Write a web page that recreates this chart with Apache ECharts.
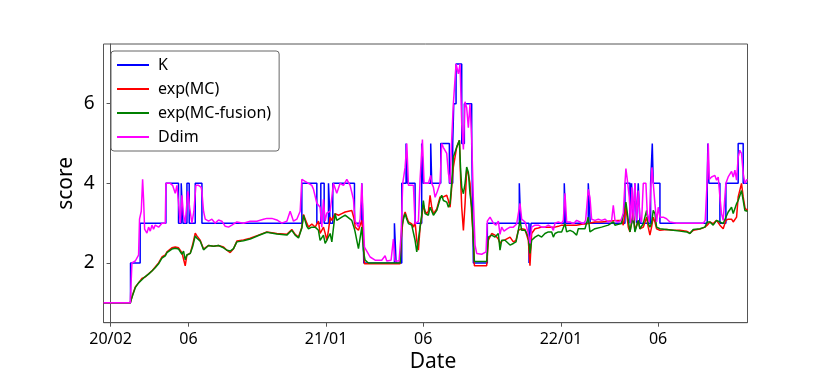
<!DOCTYPE html>
<html>
<head>
<meta charset="utf-8">
<script src="https://cdn.jsdelivr.net/npm/echarts@6/dist/echarts.min.js"></script>
<style>html,body{margin:0;padding:0;background:#fff}#c{width:830px;height:369px}</style>
</head>
<body>
<div id="c"></div>
<script>
// x values are days since 2020-02-01
const tickDays = [0, 121, 335, 486, 700, 851];
const tickLabels = ['20/02', '06', '21/01', '06', '22/01', '06'];
const yTicks = [2, 4, 6];

const kX = [-11, 31, 46, 86, 105.6, 109.8, 112.5, 118.7, 122.2, 131.6, 142, 297.3, 320.6, 326.8, 332, 338.7, 341.3, 345.4, 379.1, 390.5, 393.6, 441.2, 443.8, 452.6, 459.3, 461.4, 473.3, 483.6, 486.2, 497.6, 499.2, 513.2, 526.6, 531.8, 533.4, 537, 545.8, 549.9, 561.3, 563.9, 585.6, 635.3, 637.4, 650.4, 653.5, 705.2, 707.3, 742.5, 745.6, 799.5, 807.3, 809.8, 812.4, 815, 817.6, 820.2, 822.8, 839.4, 842, 843.5, 853.9, 927.4, 928.4, 930, 947.1, 956.4, 975.5, 983.3, 990];
const kY = [1, 2, 3, 4, 3, 4, 3, 4, 3, 4, 3, 4, 3, 4, 3, 4, 3, 4, 3, 4, 2, 3, 2, 4, 5, 4, 3, 5, 4, 5, 4, 5, 4, 5, 6, 7, 5, 6, 5, 2, 3, 4, 3, 2, 3, 4, 3, 4, 3, 4, 3, 4, 3, 4, 3, 4, 3, 4, 5, 4, 3, 4, 5, 4, 3, 4, 5, 4, 4];

const ddimX = [
  -11, 30.6, 33.2, 38.4, 43.5, 45, 47.7, 49.8, 51.3, 52.9, 56.5, 59.1, 61.7, 64.3, 66.8, 69.4, 74.6, 79.8, 82.4, 85, 86, 92.7, 96.4, 100.5, 103.1, 105.7, 108.3, 110.9, 113.4, 116, 120.2, 122.8, 126.4, 129.5, 132.6, 136.7, 140.9,
  141.9, 144.5, 147.1, 152.3, 157.5, 162.6, 167.8, 173, 178.2, 183.3, 188.5, 196.3, 206.6, 217, 227.4, 237.7, 242.9, 250.7, 258.4, 266.2, 274, 279.1, 284.3, 289.5, 294.7, 297.3,
  302.4, 307.6, 312.8, 315.4, 320.6, 325.7, 328.3, 330.9, 333.5, 336.1, 341.3, 343.9, 346.4, 351.6, 356.8, 362, 367.2, 372.3, 377.5, 380.1, 385.3, 387.9, 390.5, 392.5, 394.6, 398.2, 403.4, 411.2, 421.5, 426.7, 429.3, 436, 439.6, 442.2, 448.4, 451.5, 454.1, 457.8, 460.4, 463,
  465.5, 470.7, 473.3, 478.5, 481.1, 484.7, 487.3, 494, 497.6, 499.2, 501.8, 504.4, 508, 512.1, 514.7, 517.3, 522.5, 525.1, 527.7, 530.2, 532.8, 537, 540.6, 543.2, 545.8, 548.4, 550.9, 553.5, 556.1, 558.7, 561.3, 563.9, 566.5, 569.1, 576.9, 583.6, 585.6, 589.8, 595, 599.1, 602.7, 605.3, 607.9, 611.5, 615.7, 620.9, 626,
  631.2, 633.8, 636.4, 639, 644.2, 646.7, 649.3, 651.9, 654.5, 659.7, 664.9, 670, 675.2, 680.4, 685.6, 688.2, 690.8, 695.9, 701.1, 703.7, 706.3, 708.9, 714.1, 719.2, 724.4, 729.6, 734.8, 738.4, 742.5, 745.1, 747.7, 752.9, 758.1, 763.2, 768.4, 773.6, 778.8, 781.4, 784, 789.1, 793.3,
  796.9, 799.5, 801, 803.1, 806.2, 808.3, 810.4, 812.4, 815, 817.6, 820.2, 822.8, 825.4, 828, 832.1, 834.2, 837.3, 839.4, 841.4, 843.5, 846.1, 848.7, 851.3, 853.9, 859, 864.2, 869.4, 879.7, 895.3, 910.8, 921.2, 924.3, 927.4, 929, 930.5, 934.1, 936.7, 939.3, 941.9, 944.5, 947.1, 949.6, 952.2, 956.4, 960, 962.6, 965.2, 967.8, 970.4, 973, 975.5, 978.1, 980.7, 983.3, 985.9, 988.5, 990
];
const ddimY = [
  1, 1, 2.0, 2.05, 2.2, 3.1, 3.3, 4.1, 3.6, 2.85, 2.75, 2.9, 2.8, 2.95, 2.85, 2.95, 2.9, 3.0, 2.95, 3.0, 4.0, 4.0, 3.95, 3.75, 3.95, 3.5, 3.0, 3.7, 3.2, 3.0, 3.8, 3.4, 3.0, 3.3, 3.95, 3.95, 3.9,
  3.8, 3.3, 3.1, 3.05, 3.1, 3.0, 3.08, 3.05, 2.92, 2.9, 2.95, 3.03, 3.0, 3.05, 3.05, 3.1, 3.12, 3.12, 3.08, 3.0, 3.05, 3.3, 3.05, 3.1, 3.3, 4.1,
  4.05, 4.0, 3.95, 3.85, 3.5, 3.4, 2.9, 3.6, 3.05, 3.25, 3.3, 3.65, 4.0, 3.75, 4.0, 3.95, 4.1, 3.95, 3.6, 3.05, 2.9, 3.1, 4.0, 3.2, 2.4, 2.3, 2.15, 2.07, 2.07, 2.18, 2.05, 2.07, 2.6, 2.05, 2.05, 2.7, 4.0, 4.4, 5.0, 3.95,
  3.9, 3.95, 2.98, 3.05, 4.1, 5.1, 4.0, 4.0, 4.2, 4.0, 3.9, 3.65, 3.8, 4.0, 5.0, 4.9, 4.75, 4.25, 4.0, 5.1, 6.0, 7.0, 6.75, 7.0, 5.5, 4.85, 6.05, 5.9, 5.4, 6.0, 5.1, 3.6, 2.45, 2.24, 2.22, 2.28, 3.05, 3.15, 3.0, 2.95, 3.05, 2.72, 2.9, 2.8, 2.85, 2.9, 2.9,
  2.98, 3.0, 3.5, 3.1, 3.03, 2.9, 2.74, 2.49, 2.9, 2.95, 2.95, 2.9, 2.9, 2.95, 2.9, 2.82, 3.0, 3.03, 3.0, 3.07, 3.75, 3.03, 3.03, 2.98, 3.07, 3.03, 2.98, 3.07, 3.85, 3.65, 3.1, 3.07, 3.1, 3.07, 3.1, 3.03, 3.07, 3.45, 3.07, 3.03, 3.07,
  3.24, 4.0, 4.37, 4.1, 3.66, 3.0, 3.9, 3.07, 4.0, 3.07, 3.82, 3.15, 3.03, 4.0, 4.0, 3.24, 3.03, 3.82, 4.4, 4.0, 3.49, 3.03, 3.4, 3.15, 3.15, 3.11, 3.03, 3.0, 3.0, 3.0, 3.0, 3.07, 4.1, 5.0, 4.1, 4.16, 4.12, 4.2, 4.08, 4.16, 3.66, 3.24, 3.07, 4.0, 4.16, 4.2, 4.3, 4.16, 4.33, 4.08, 4.66, 4.83, 4.75, 4.25, 4.0, 4.08, 4.1
];

const mcX = [
  -11, 30.6, 34.2, 38.4, 43.5, 48.7, 53.9, 59.1, 64.3, 69.4, 74.6, 79.8, 85, 87.6, 95.3, 100.5, 105.7, 110.9, 113.4, 116, 118.6, 123.8, 127.4, 131.6, 134.2, 139.3, 144.5,
  147.1, 152.3, 160, 167.8, 175.6, 180.8, 185.9, 191.1, 196.3, 206.6, 217, 229.9, 242.9, 258.4, 274, 281.7, 286.9, 292.1, 297.3, 299.9,
  305, 307.6, 312.8, 318, 323.1, 325.7, 330.9, 333.5, 336.1, 338.7, 341.3, 343.9, 349, 351.6, 354.2, 359.4, 364.6, 374.9, 379.1, 380.1, 382.7, 385.3, 390.5, 393, 394.6, 395.6, 400.8, 450, 452.6, 455.2, 457.8, 460.4, 463, 468.1,
  470.7, 473.3, 475.9, 478.5, 481.1, 483.6, 486.2, 488.8, 491.4, 494, 496.6, 499.2, 501.8, 507, 512.1, 514.7, 517.3, 522.5, 525.1, 527.7, 530.2, 532.8, 538, 542.2, 544.2, 545.8, 548.4, 551, 553.5, 556.1, 558.7, 561.3, 563.9, 565.5, 584.6, 587.2, 592.4, 597.6, 600.2, 602.7, 605.3, 607.9, 610.5, 613.1, 615.7, 620.9, 626, 630.2,
  633.8, 636.4, 639, 644.2, 646.7, 649.3, 651.9, 654.5, 659.7, 664.9, 670, 675.2, 680.4, 685.6, 688.2, 690.8, 695.9, 701.1, 706.3, 708.9, 714.1, 719.2, 724.4, 727, 732.2, 737.4, 742.5, 745.1, 752.9, 763.2, 773.6, 781.4, 784, 789.1, 794.3,
  796.9, 801, 804.7, 807.3, 812.4, 815, 820.2, 822.8, 828, 833.2, 835.7, 838.3, 840.9, 843.5, 846.1, 848.7, 853.9, 864.2, 874.6, 884.9, 895.3, 900.5, 903.1, 905.6, 916, 923.8, 927.4, 931.5, 936.7, 941.9, 947.1, 952.2, 956.4, 960, 962.6, 965.2, 967.8, 973, 975.5, 980.7, 983.3, 985.9, 988.5, 990
];
const mcY = [
  1, 1, 1.2, 1.4, 1.5, 1.61, 1.65, 1.73, 1.8, 1.9, 2.0, 2.15, 2.2, 2.28, 2.38, 2.4, 2.38, 2.26, 2.28, 1.93, 2.2, 2.24, 2.45, 2.75, 2.68, 2.57, 2.35,
  2.36, 2.44, 2.42, 2.44, 2.4, 2.32, 2.26, 2.36, 2.55, 2.58, 2.62, 2.7, 2.78, 2.74, 2.72, 2.84, 2.72, 2.65, 2.9, 3.22,
  3.0, 2.9, 2.98, 2.9, 3.05, 2.74, 2.9, 2.75, 2.57, 2.82, 3.15, 3.07, 3.24, 3.2, 3.2, 3.24, 3.28, 3.32, 3.07, 2.9, 2.85, 2.82, 3.07, 2.57, 1.98, 1.98, 1.98, 1.98, 2.78, 3.15, 3.28, 3.15, 3.03, 2.98,
  2.9, 3.03, 2.57, 2.32, 2.9, 3.15, 3.45, 3.3, 3.24, 3.3, 3.7, 3.4, 3.24, 3.36, 3.66, 3.66, 3.66, 3.7, 3.57, 3.4, 3.9, 4.41, 4.91, 5.08, 4.08, 3.4, 2.82, 3.49, 4.33, 4.24, 4.0, 3.24, 2.57, 1.93, 1.93, 2.57, 2.74, 2.7, 2.65, 2.6, 2.49, 2.55, 2.57, 2.58, 2.61, 2.65, 2.53, 2.57,
  2.82, 2.86, 2.86, 2.84, 2.82, 2.57, 1.93, 2.74, 2.86, 2.88, 2.9, 2.9, 2.9, 2.9, 2.9, 2.9, 2.92, 2.95, 2.95, 2.95, 2.95, 2.95, 2.95, 2.96, 2.97, 2.98, 2.99, 3.0, 3.03, 3.03, 3.05, 3.06, 3.07, 3.07, 3.07,
  2.95, 3.4, 2.9, 2.78, 3.28, 2.82, 3.07, 2.86, 2.9, 3.15, 2.9, 2.7, 2.9, 3.15, 3.03, 2.86, 2.82, 2.84, 2.82, 2.82, 2.8, 2.75, 2.78, 2.82, 2.85, 2.9, 2.95, 3.03, 2.99, 3.07, 2.95, 2.86, 3.07, 3.1, 3.15, 3.1, 3.03, 3.15, 3.66, 4.0, 3.66, 3.4, 3.32, 3.35
];
const fusionY = [
  1, 1, 1.18, 1.38, 1.5, 1.58, 1.66, 1.72, 1.8, 1.88, 1.98, 2.12, 2.18, 2.26, 2.35, 2.37, 2.35, 2.22, 2.3, 2.08, 2.2, 2.24, 2.4, 2.68, 2.62, 2.55, 2.33,
  2.36, 2.44, 2.42, 2.44, 2.38, 2.32, 2.3, 2.36, 2.53, 2.56, 2.6, 2.69, 2.77, 2.73, 2.7, 2.82, 2.7, 2.63, 2.88, 3.2,
  2.92, 2.86, 2.9, 2.9, 2.82, 2.57, 2.7, 2.49, 2.57, 2.6, 2.74, 2.53, 3.24, 3.07, 3.1, 3.15, 3.2, 3.07, 2.85, 2.78, 2.57, 2.36, 2.9, 2.32, 2.15, 2.07, 2.0, 2.0, 2.9, 3.1, 3.24, 3.1, 2.99, 2.95,
  2.9, 2.57, 2.28, 2.32, 2.9, 3.2, 3.57, 3.24, 3.22, 3.2, 3.4, 3.45, 3.2, 3.32, 3.6, 3.7, 3.57, 3.53, 3.4, 3.5, 4.0, 4.66, 4.91, 5.08, 4.3, 3.9, 3.74, 4.0, 4.41, 4.28, 3.74, 3.4, 2.57, 2.04, 2.04, 2.65, 2.7, 2.65, 2.7, 2.74, 2.32, 2.57, 2.55, 2.57, 2.61, 2.45, 2.49, 2.53,
  2.82, 3.07, 2.82, 2.82, 2.75, 2.65, 2.24, 2.57, 2.65, 2.7, 2.65, 2.74, 2.78, 2.78, 2.65, 2.74, 2.78, 2.78, 2.99, 2.78, 2.82, 2.78, 2.7, 2.86, 2.86, 2.86, 3.15, 2.78, 2.86, 2.9, 2.95, 3.03, 2.95, 2.97, 2.99,
  2.95, 3.53, 3.07, 2.78, 3.2, 2.78, 3.07, 2.86, 2.99, 3.32, 2.99, 2.9, 3.0, 3.32, 3.24, 2.9, 2.86, 2.84, 2.82, 2.8, 2.78, 2.74, 2.7, 2.84, 2.86, 2.9, 3.03, 3.03, 2.95, 3.07, 3.03, 2.99, 3.15, 3.28, 3.24, 3.4, 3.24, 3.49, 3.57, 3.82, 3.57, 3.32, 3.36, 3.3
];

const zip = (xs, ys) => xs.map((x, i) => [x, ys[i]]);
const FONT = '"Noto Sans", "Noto Sans CJK JP", sans-serif';
const AX = '#555';

const chart = echarts.init(document.getElementById('c'), null, { renderer: 'canvas' });
chart.setOption({
  animation: false,
  backgroundColor: '#fff',
  grid: { left: 103.5, right: 82.5, top: 44, bottom: 46.3, containLabel: false, outerBoundsMode: 'none',
    show: true, borderColor: AX, borderWidth: 1, backgroundColor: 'transparent' },
  legend: {
    orient: 'vertical', left: 111, top: 51,
    padding: [6, 8, 6, 6],
    icon: 'rect', itemWidth: 32, itemHeight: 2, itemGap: 8,
    borderColor: '#666', borderWidth: 1, borderRadius: 3, backgroundColor: '#fff',
    textStyle: { fontFamily: FONT, fontSize: 16, lineHeight: 14, color: '#000', padding: [0, 0, 0, 4] },
    data: ['K', 'exp(MC)', 'exp(MC-fusion)', 'Ddim']
  },
  xAxis: {
    type: 'value', min: -11, max: 990,
    name: 'Date', nameLocation: 'middle', nameGap: 29, nameMoveOverlap: false,
    nameTextStyle: { fontFamily: FONT, fontSize: 21, color: '#000', padding: [0, 0, 0, 15] },
    axisLine: { show: true, lineStyle: { color: AX } },
    axisTick: { show: true, length: 4, customValues: tickDays, lineStyle: { color: AX } },
    axisLabel: { customValues: tickDays, margin: 9, fontFamily: FONT, fontSize: 16, color: '#000',
      formatter: v => tickLabels[tickDays.indexOf(v)] || '' },
    splitLine: { show: false }
  },
  yAxis: {
    type: 'value', min: 0.5, max: 7.5,
    name: 'score', nameLocation: 'middle', nameGap: 27, nameMoveOverlap: false,
    nameTextStyle: { fontFamily: FONT, fontSize: 21, color: '#000' },
    axisLine: { show: true, lineStyle: { color: AX } },
    axisTick: { show: true, length: 4, customValues: yTicks, lineStyle: { color: AX } },
    axisLabel: { customValues: yTicks, margin: 9, fontFamily: FONT, fontSize: 19, color: '#000' },
    splitLine: { show: false }
  },
  series: [
    { name: 'K', type: 'line', step: 'end', symbol: 'none', data: zip(kX, kY), lineStyle: { color: '#0000ff', width: 1.5 }, itemStyle: { color: '#0000ff' } },
    { name: 'exp(MC)', type: 'line', symbol: 'none', data: zip(mcX, mcY), lineStyle: { color: '#ff0000', width: 1.5 }, itemStyle: { color: '#ff0000' } },
    { name: 'exp(MC-fusion)', type: 'line', symbol: 'none', data: zip(mcX, fusionY), lineStyle: { color: '#008000', width: 1.5 }, itemStyle: { color: '#008000' } },
    { name: 'Ddim', type: 'line', symbol: 'none', data: zip(ddimX, ddimY), lineStyle: { color: '#ff00ff', width: 1.5 }, itemStyle: { color: '#ff00ff' } }
  ]
});
</script>
</body>
</html>
